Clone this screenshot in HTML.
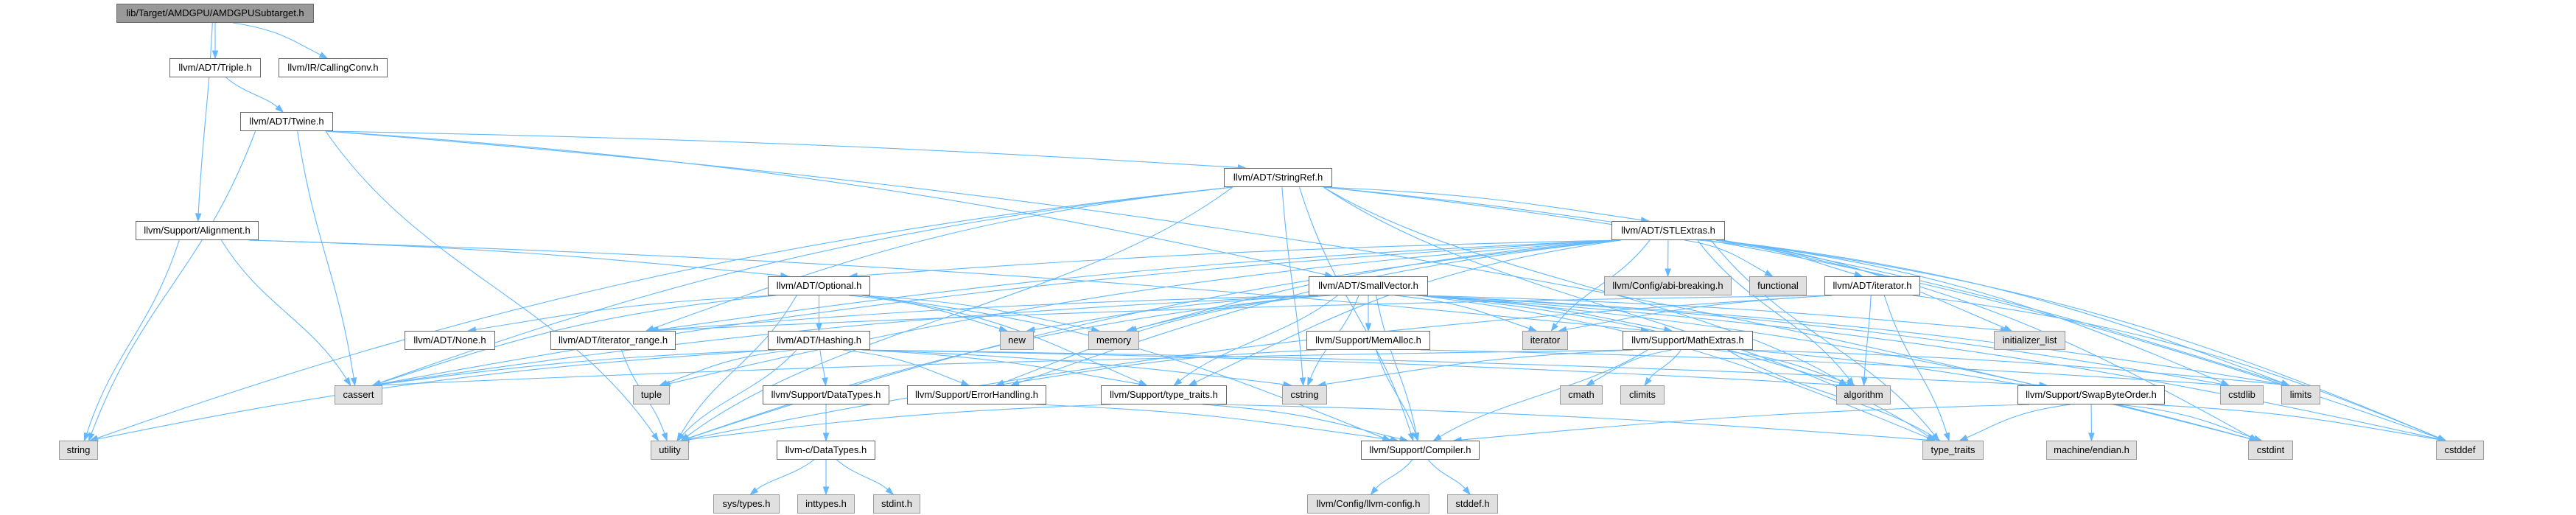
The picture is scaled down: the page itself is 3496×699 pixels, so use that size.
<!DOCTYPE html>
<html><head><meta charset="utf-8">
<style>
html,body{margin:0;padding:0;background:#fff;}
#wrap{position:relative;width:3496px;height:699px;overflow:hidden;}
svg{position:absolute;left:0;top:0;}
.n{position:absolute;height:24px;line-height:24px;border:1px solid #666;background:#fff;font-family:"Liberation Sans",sans-serif;font-size:13px;color:#000;text-align:center;white-space:nowrap;overflow:hidden;box-sizing:content-box;}
.g{background:#e0e0e0;border-color:#999;}
.r{background:#999;border-color:#666;}
</style></head><body>
<div id="wrap">
<svg id="edges" width="3496" height="699"></svg>
<div id="nodes">
<div class="n r" id="root" style="left:158px;top:5px;width:266px">lib/Target/AMDGPU/AMDGPUSubtarget.h</div>
<div class="n" id="triple" style="left:230px;top:79px;width:122px">llvm/ADT/Triple.h</div>
<div class="n" id="cc" style="left:378px;top:79px;width:146px">llvm/IR/CallingConv.h</div>
<div class="n" id="twine" style="left:326px;top:152px;width:124px">llvm/ADT/Twine.h</div>
<div class="n" id="stringref" style="left:1661px;top:228px;width:145px">llvm/ADT/StringRef.h</div>
<div class="n" id="align" style="left:184px;top:300px;width:165px">llvm/Support/Alignment.h</div>
<div class="n" id="stl" style="left:2187px;top:300px;width:152px">llvm/ADT/STLExtras.h</div>
<div class="n" id="optional" style="left:1042px;top:375px;width:137px">llvm/ADT/Optional.h</div>
<div class="n" id="smallvec" style="left:1776px;top:375px;width:160px">llvm/ADT/SmallVector.h</div>
<div class="n g" id="abi" style="left:2177px;top:375px;width:171px">llvm/Config/abi-breaking.h</div>
<div class="n g" id="functional" style="left:2374px;top:375px;width:76px">functional</div>
<div class="n" id="iterh" style="left:2476px;top:375px;width:128px">llvm/ADT/iterator.h</div>
<div class="n" id="none" style="left:549px;top:449px;width:121px">llvm/ADT/None.h</div>
<div class="n" id="itrange" style="left:747px;top:449px;width:168px">llvm/ADT/iterator_range.h</div>
<div class="n" id="hashing" style="left:1042px;top:449px;width:137px">llvm/ADT/Hashing.h</div>
<div class="n g" id="new" style="left:1357px;top:449px;width:44px">new</div>
<div class="n g" id="memory" style="left:1477px;top:449px;width:67px">memory</div>
<div class="n" id="memalloc" style="left:1773px;top:449px;width:166px">llvm/Support/MemAlloc.h</div>
<div class="n g" id="iterator" style="left:2066px;top:449px;width:60px">iterator</div>
<div class="n" id="math" style="left:2202px;top:449px;width:175px">llvm/Support/MathExtras.h</div>
<div class="n g" id="initlist" style="left:2706px;top:449px;width:95px">initializer_list</div>
<div class="n g" id="cassert" style="left:454px;top:523px;width:63px">cassert</div>
<div class="n g" id="tuple" style="left:859px;top:523px;width:48px">tuple</div>
<div class="n" id="datatypes" style="left:1035px;top:523px;width:170px">llvm/Support/DataTypes.h</div>
<div class="n" id="errh" style="left:1231px;top:523px;width:187px">llvm/Support/ErrorHandling.h</div>
<div class="n" id="stt" style="left:1494px;top:523px;width:169px">llvm/Support/type_traits.h</div>
<div class="n g" id="cstring" style="left:1740px;top:523px;width:59px">cstring</div>
<div class="n g" id="cmath" style="left:2117px;top:523px;width:56px">cmath</div>
<div class="n g" id="climits" style="left:2199px;top:523px;width:58px">climits</div>
<div class="n g" id="algorithm" style="left:2492px;top:523px;width:72px">algorithm</div>
<div class="n" id="swap" style="left:2738px;top:523px;width:198px">llvm/Support/SwapByteOrder.h</div>
<div class="n g" id="cstdlib" style="left:3013px;top:523px;width:57px">cstdlib</div>
<div class="n g" id="limits" style="left:3096px;top:523px;width:51px">limits</div>
<div class="n g" id="string" style="left:80px;top:598px;width:51px">string</div>
<div class="n g" id="utility" style="left:883px;top:598px;width:50px">utility</div>
<div class="n" id="cdatatypes" style="left:1054px;top:598px;width:132px">llvm-c/DataTypes.h</div>
<div class="n" id="compiler" style="left:1847px;top:598px;width:159px">llvm/Support/Compiler.h</div>
<div class="n g" id="typetraits" style="left:2609px;top:598px;width:81px">type_traits</div>
<div class="n g" id="endian" style="left:2777px;top:598px;width:121px">machine/endian.h</div>
<div class="n g" id="cstdint" style="left:3051px;top:598px;width:59px">cstdint</div>
<div class="n g" id="cstddef" style="left:3306px;top:598px;width:63px">cstddef</div>
<div class="n g" id="systypes" style="left:968px;top:671px;width:88px">sys/types.h</div>
<div class="n g" id="inttypes" style="left:1082px;top:671px;width:76px">inttypes.h</div>
<div class="n g" id="stdint" style="left:1185px;top:671px;width:62px">stdint.h</div>
<div class="n g" id="llvmconfig" style="left:1774px;top:671px;width:164px">llvm/Config/llvm-config.h</div>
<div class="n g" id="stddef" style="left:1964px;top:671px;width:67px">stddef.h</div>
</div>
</div>
<script>
var E={
root:["triple","cc","align"],
triple:["twine"],
twine:["smallvec","stringref","cassert","cstdint","string","utility"],
align:["math","optional","cassert","string"],
stringref:["stl","itrange","compiler","algorithm","cassert","cstddef","cstring","limits","string","typetraits","utility"],
stl:["optional","abi","functional","iterh","itrange","errh","stt","algorithm","cassert","cstddef","cstdint","cstdlib","initlist","iterator","limits","memory","tuple","typetraits","utility"],
optional:["none","hashing","compiler","stt","cassert","new","utility","memory"],
hashing:["datatypes","errh","swap","stt","algorithm","cassert","cstring","string","tuple","utility"],
smallvec:["itrange","compiler","memalloc","stt","errh","algorithm","cassert","cstddef","cstdint","cstdlib","cstring","initlist","iterator","limits","memory","new","typetraits","utility","math"],
memalloc:["compiler","errh","cstdlib"],
math:["compiler","algorithm","cassert","climits","cmath","cstdint","cstring","limits","typetraits"],
iterh:["itrange","algorithm","cstddef","iterator","typetraits","utility"],
itrange:["utility"],
datatypes:["cdatatypes"],
cdatatypes:["systypes","inttypes","stdint"],
errh:["compiler"],
stt:["compiler","typetraits","utility"],
compiler:["llvmconfig","stddef"],
swap:["compiler","typetraits","endian","cstddef","cstdint"]
};
function box(id){var e=document.getElementById(id);var x=e.offsetLeft,y=e.offsetTop,w=e.offsetWidth,h=e.offsetHeight;return {x:x,y:y,w:w,h:h,cx:x+w/2,cy:y+h/2};}
var svg=document.getElementById("edges"),out="";
var C="#63b8ff";
for(var s in E){var a=box(s);E[s].forEach(function(t,i){var b=box(t);
 var dx=b.cx-a.cx;var off=Math.max(-a.w*0.42,Math.min(a.w*0.42,dx*0.15));
 var sx=a.cx+off,sy=a.y+a.h;
 var ex=b.cx+Math.max(-b.w*0.3,Math.min(b.w*0.3,-dx*0.05)),ey=b.y;
 var dy=ey-sy;
 var c1x=sx+dx*0.25,c1y=sy+dy*0.45,c2x=ex-dx*0.25,c2y=ey-dy*0.45;
 if(Math.abs(dx)>dy*3){c1x=sx+dx*0.4;c1y=sy+dy*0.2;c2x=ex-dx*0.3;c2y=ey-dy*0.5;}
 var vx=ex-c2x,vy=ey-c2y,L=Math.sqrt(vx*vx+vy*vy)||1;vx/=L;vy/=L;
 var bx=ex-vx*10,by=ey-vy*10,px=-vy*3.6,py=vx*3.6;
 out+='<path d="M'+sx.toFixed(1)+','+sy.toFixed(1)+' C'+c1x.toFixed(1)+','+c1y.toFixed(1)+' '+c2x.toFixed(1)+','+c2y.toFixed(1)+' '+bx.toFixed(1)+','+by.toFixed(1)+'" fill="none" stroke="'+C+'" stroke-width="1.1"/>';
 out+='<polygon points="'+ex.toFixed(1)+','+ey.toFixed(1)+' '+(bx+px).toFixed(1)+','+(by+py).toFixed(1)+' '+(bx-px).toFixed(1)+','+(by-py).toFixed(1)+'" fill="'+C+'" stroke="'+C+'"/>';
});}
svg.innerHTML=out;
</script>
</body></html>
